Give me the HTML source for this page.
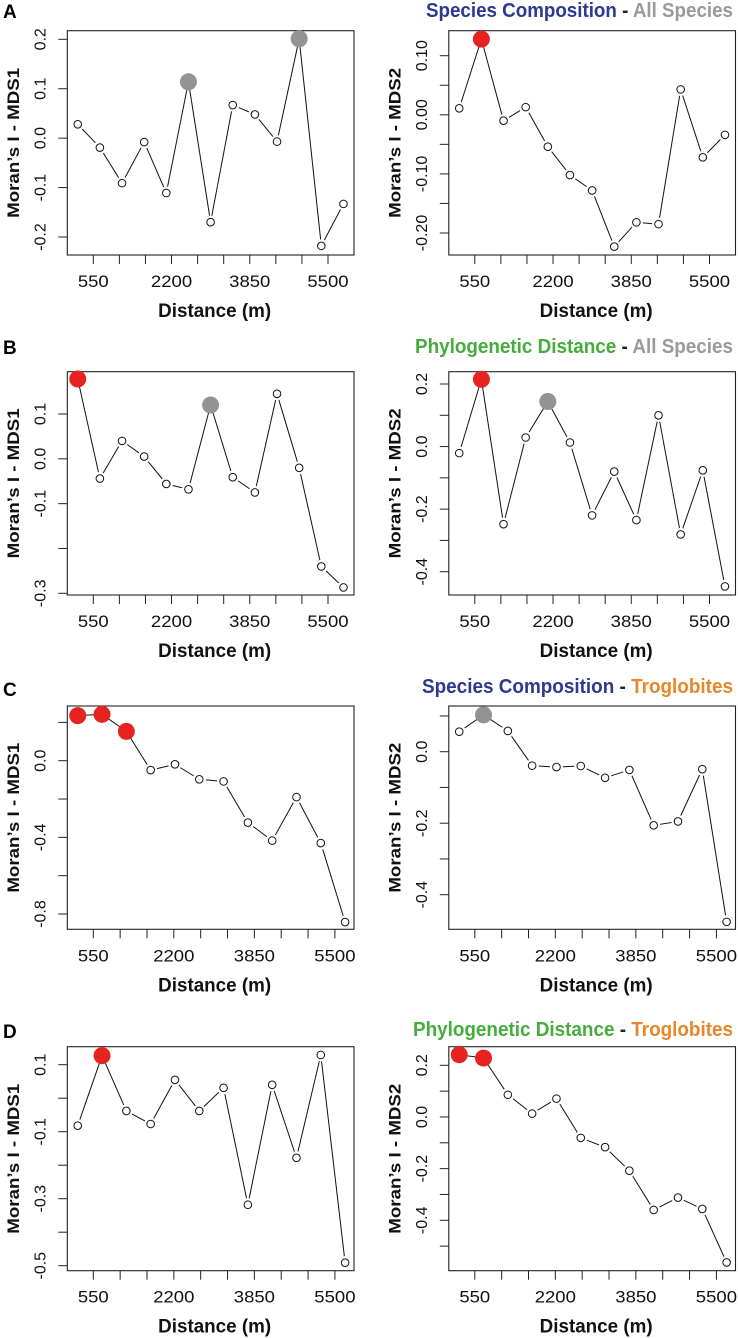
<!DOCTYPE html>
<html><head><meta charset="utf-8">
<style>
html,body{margin:0;padding:0;background:#fff;}
svg{display:block;font-family:"Liberation Sans",Arial,sans-serif;}
</style></head>
<body>
<svg id="fig" width="738" height="1338" viewBox="0 0 738 1338" xmlns="http://www.w3.org/2000/svg">
<text x="3" y="18" font-size="19" font-weight="bold">A</text>
<text x="3" y="354" font-size="19" font-weight="bold">B</text>
<text x="3" y="696" font-size="19" font-weight="bold">C</text>
<text x="3" y="1038" font-size="19" font-weight="bold">D</text>
<text x="426" y="17" font-size="20" font-weight="bold" textLength="307" lengthAdjust="spacingAndGlyphs"><tspan fill="#2b3990">Species Composition</tspan><tspan fill="#222"> - </tspan><tspan fill="#9a9a9a">All Species</tspan></text>
<text x="415" y="353" font-size="20" font-weight="bold" textLength="318" lengthAdjust="spacingAndGlyphs"><tspan fill="#45ad3e">Phylogenetic Distance</tspan><tspan fill="#222"> - </tspan><tspan fill="#9a9a9a">All Species</tspan></text>
<text x="422" y="693" font-size="20" font-weight="bold" textLength="311" lengthAdjust="spacingAndGlyphs"><tspan fill="#2b3990">Species Composition</tspan><tspan fill="#222"> - </tspan><tspan fill="#e8872a">Troglobites</tspan></text>
<text x="413" y="1036" font-size="20" font-weight="bold" textLength="320" lengthAdjust="spacingAndGlyphs"><tspan fill="#45ad3e">Phylogenetic Distance</tspan><tspan fill="#222"> - </tspan><tspan fill="#e8872a">Troglobites</tspan></text>
</svg>
<script>
// distance classes (m)
const distAB = [222,689,1156,1623,2090,2557,3024,3491,3958,4425,4892,5359,5826];
const distCD = [231,729,1227,1725,2223,2721,3219,3717,4215,4713,5211,5709];
const xTickValues = [550,1100,1650,2200,2750,3300,3850,4400,4950,5500];
const xTickLabels = ["550","","","2200","","","3850","","","5500"];
// Moran's I values (0 = n.s., 1 = significant red, 2 = grey)
const aMds1 = [0.028,-0.019,-0.091,-0.008,-0.111,0.114,-0.170,0.067,0.048,-0.007,0.201,-0.218,-0.133];
const aMds1Sig = [0,0,0,0,0,2,0,0,0,0,2,0,0];
const aMds2 = [0.011,0.128,-0.010,0.013,-0.054,-0.102,-0.128,-0.223,-0.182,-0.185,0.043,-0.072,-0.034];
const aMds2Sig = [0,1,0,0,0,0,0,0,0,0,0,0,0];
const bMds1 = [0.178,-0.044,0.040,0.005,-0.056,-0.068,0.120,-0.041,-0.075,0.145,-0.020,-0.240,-0.287];
const bMds1Sig = [1,0,0,0,0,0,2,0,0,0,0,0,0];
const bMds2 = [-0.021,0.215,-0.248,0.029,0.144,0.013,-0.220,-0.080,-0.235,0.100,-0.281,-0.076,-0.447];
const bMds2Sig = [0,1,0,0,2,0,0,0,0,0,0,0,0];
const cMds1 = [0.235,0.242,0.153,-0.049,-0.019,-0.097,-0.108,-0.323,-0.417,-0.190,-0.430,-0.842];
const cMds1Sig = [1,1,1,0,0,0,0,0,0,0,0,0];
const cMds2 = [0.056,0.103,0.058,-0.039,-0.043,-0.040,-0.073,-0.051,-0.206,-0.195,-0.049,-0.476];
const cMds2Sig = [0,2,0,0,0,0,0,0,0,0,0,0];
const dMds1 = [-0.082,0.127,-0.038,-0.077,0.055,-0.038,0.031,-0.318,0.040,-0.178,0.129,-0.491];
const dMds1Sig = [0,1,0,0,0,0,0,0,0,0,0,0];
const dMds2 = [0.241,0.228,0.086,0.013,0.071,-0.081,-0.117,-0.208,-0.360,-0.312,-0.356,-0.563];
const dMds2Sig = [1,1,0,0,0,0,0,0,0,0,0,0];
// y ticks per panel
const aMds1Ticks = [0.2,0.1,0.0,-0.1,-0.2];
const aMds1TickLabels = ["0.2","0.1","0.0","-0.1","-0.2"];
const aMds2Ticks = [0.10,0.05,0.00,-0.05,-0.10,-0.15,-0.20];
const aMds2TickLabels = ["0.10","","0.00","","-0.10","","-0.20"];
const bMds1Ticks = [0.1,0.0,-0.1,-0.2,-0.3];
const bMds1TickLabels = ["0.1","0.0","-0.1","","-0.3"];
const bMds2Ticks = [0.2,0.1,0.0,-0.1,-0.2,-0.3,-0.4];
const bMds2TickLabels = ["0.2","","0.0","","-0.2","","-0.4"];
const cMds1Ticks = [0.2,0.0,-0.2,-0.4,-0.6,-0.8];
const cMds1TickLabels = ["","0.0","","-0.4","","-0.8"];
const cMds2Ticks = [0.1,0.0,-0.1,-0.2,-0.3,-0.4];
const cMds2TickLabels = ["","0.0","","-0.2","","-0.4"];
const dMds1Ticks = [0.1,0.0,-0.1,-0.2,-0.3,-0.4,-0.5];
const dMds1TickLabels = ["0.1","","-0.1","","-0.3","","-0.5"];
const dMds2Ticks = [0.2,0.1,0.0,-0.1,-0.2,-0.3,-0.4,-0.5];
const dMds2TickLabels = ["0.2","","0.0","","-0.2","","-0.4",""];

const NS="http://www.w3.org/2000/svg";
const svg=document.getElementById('fig');
function mk(tag,attrs,parent){const e=document.createElementNS(NS,tag);for(const k in attrs)e.setAttribute(k,attrs[k]);(parent||svg).appendChild(e);return e;}

const rows=[
 {top:30.7,bot:255,x550:93.3,x5500:328,dist:distAB},
 {top:371.7,bot:595,x550:93.3,x5500:328,dist:distAB},
 {top:706,bot:929.3,x550:93.3,x5500:334.9,dist:distCD},
 {top:1046.7,bot:1270.7,x550:93.3,x5500:334.9,dist:distCD}
];
const panels=[
 {row:0,col:0,name:'a-mds1',vals:aMds1,sig:aMds1Sig,ticks:aMds1Ticks,labs:aMds1TickLabels,v1:0.2,p1:39.3,v2:-0.2,p2:237,yt:"Moran\u2019s I - MDS1"},
 {row:0,col:1,name:'a-mds2',vals:aMds2,sig:aMds2Sig,ticks:aMds2Ticks,labs:aMds2TickLabels,v1:0.10,p1:55.7,v2:-0.20,p2:233,yt:"Moran\u2019s I - MDS2"},
 {row:1,col:0,name:'b-mds1',vals:bMds1,sig:bMds1Sig,ticks:bMds1Ticks,labs:bMds1TickLabels,v1:0.1,p1:414,v2:-0.3,p2:593.3,yt:"Moran\u2019s I - MDS1"},
 {row:1,col:1,name:'b-mds2',vals:bMds2,sig:bMds2Sig,ticks:bMds2Ticks,labs:bMds2TickLabels,v1:0.2,p1:384,v2:-0.4,p2:571.7,yt:"Moran\u2019s I - MDS2"},
 {row:2,col:0,name:'c-mds1',vals:cMds1,sig:cMds1Sig,ticks:cMds1Ticks,labs:cMds1TickLabels,v1:0.0,p1:760.7,v2:-0.8,p2:914,yt:"Moran\u2019s I - MDS1"},
 {row:2,col:1,name:'c-mds2',vals:cMds2,sig:cMds2Sig,ticks:cMds2Ticks,labs:cMds2TickLabels,v1:0.0,p1:751.7,v2:-0.4,p2:894.7,yt:"Moran\u2019s I - MDS2"},
 {row:3,col:0,name:'d-mds1',vals:dMds1,sig:dMds1Sig,ticks:dMds1Ticks,labs:dMds1TickLabels,v1:0.1,p1:1064.7,v2:-0.5,p2:1265.7,yt:"Moran\u2019s I - MDS1"},
 {row:3,col:1,name:'d-mds2',vals:dMds2,sig:dMds2Sig,ticks:dMds2Ticks,labs:dMds2TickLabels,v1:0.2,p1:1065.3,v2:-0.4,p2:1220.3,yt:"Moran\u2019s I - MDS2"}
];

panels.forEach(p=>{
  const r=rows[p.row];
  const off=p.col?381.5:0;
  const bx0=67.3+off, bx1=354+off;
  const g=mk('g',{});
  
  
  const xs=d=>off+r.x550+(d-550)*(r.x5500-r.x550)/4950;
  const ys=v=>p.p1+(v-p.v1)*(p.p2-p.p1)/(p.v2-p.v1);
  const box=mk('rect',{x:bx0,y:r.top,width:bx1-bx0,height:r.bot-r.top,fill:'none',stroke:'#222','stroke-width':1.1},g);
  
  
  xTickValues.forEach((t,i)=>{
    const x=xs(t);
    const tk=mk('line',{x1:x,x2:x,y1:r.bot,y2:r.bot+9,stroke:'#222','stroke-width':1},g);
    
    
    if(xTickLabels[i]){
      const tl=mk('text',{x:x,y:r.bot+32,'font-size':17,'text-anchor':'middle',fill:'#111',textLength:xTickLabels[i].length*10.3,lengthAdjust:'spacingAndGlyphs'},g);
      tl.textContent=xTickLabels[i];
      
      
    }
  });
  const xt=mk('text',{x:(bx0+bx1)/2+4,y:r.bot+62,'font-size':19,'font-weight':'bold','text-anchor':'middle',fill:'#111',textLength:113,lengthAdjust:'spacingAndGlyphs'},g);
  xt.textContent='Distance (m)';
  
  
  p.ticks.forEach((t,i)=>{
    const y=ys(t);
    const tk=mk('line',{x1:bx0-9,x2:bx0,y1:y,y2:y,stroke:'#222','stroke-width':1},g);
    
    
    if(p.labs[i]){
      const lx=bx0-22;
      const tl=mk('text',{x:lx,y:y,'font-size':16,'text-anchor':'middle',fill:'#111',transform:`rotate(-90 ${lx} ${y})`},g);
      tl.textContent=p.labs[i];
      
      
    }
  });
  const tx=19+off, ty=(r.top+r.bot)/2;
  const yt=mk('text',{x:tx,y:ty,'font-size':17,'font-weight':'bold','text-anchor':'middle',fill:'#111',transform:`rotate(-90 ${tx} ${ty})`,textLength:150,lengthAdjust:'spacingAndGlyphs'},g);
  yt.textContent=p.yt;
  
  
  const pts=p.vals.map((v,i)=>[xs(r.dist[i]),ys(v)]);
  for(let i=0;i<pts.length-1;i++){
    const [x1,y1]=pts[i],[x2,y2]=pts[i+1];
    const dx=x2-x1,dy=y2-y1,L=Math.hypot(dx,dy),gap=6.5;
    if(L>2*gap){
      const s=mk('line',{x1:x1+dx*gap/L,y1:y1+dy*gap/L,x2:x2-dx*gap/L,y2:y2-dy*gap/L,stroke:'#111','stroke-width':1},g);
      
      
    }
  }
  pts.forEach((pt,i)=>{
    const s=p.sig[i];
    let c;
    if(s===0) c=mk('circle',{cx:pt[0],cy:pt[1],r:3.8,fill:'#fff',stroke:'#111','stroke-width':1},g);
    else c=mk('circle',{cx:pt[0],cy:pt[1],r:8.5,fill:s===1?'#e52421':'#939393'},g);
    
    
  });
});
</script>
</body></html>
